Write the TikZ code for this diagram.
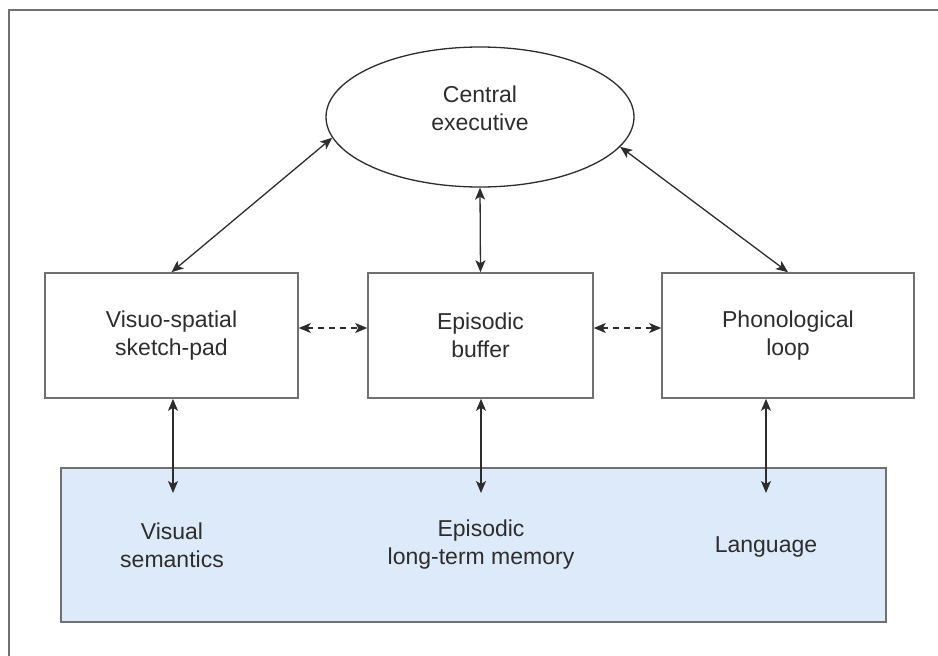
\documentclass[tikz,border=0pt]{standalone}
\usepackage{fontspec}
\setmainfont{Liberation Sans}
\usetikzlibrary{arrows.meta,shapes.geometric}
\definecolor{boxgray}{RGB}{112,112,112}
\definecolor{inkgray}{RGB}{45,45,45}
\definecolor{memblue}{RGB}{221,234,250}

\begin{document}
\begin{tikzpicture}[x=1pt,y=-1pt,
  font=\fontsize{23}{28}\selectfont,
  box/.style={draw=boxgray,line width=1.6pt,align=center,inner sep=0pt,text=inkgray},
  txt/.style={align=center,inner sep=0pt,text=inkgray},
  tip/.style={draw=inkgray,line width=1.3pt,
    {Stealth[length=12pt,width=10pt,inset=3pt]}-{Stealth[length=12pt,width=10pt,inset=3pt]}},
  dtip/.style={tip,dash pattern=on 6pt off 5pt}]

\useasboundingbox (0,0) rectangle (938,656);
\draw [boxgray,line width=2pt] (9,656) -- (9,10) -- (938,10);

\node [draw=inkgray,line width=1.3pt,ellipse,minimum width=308,minimum height=140,inner sep=0pt] (ce) at (480,117) {};
\node [txt] (cetxt) at (480,108) {Central\\executive};

\node [box,minimum width=253,minimum height=125] (vsp) at (171.5,335.5) {Visuo-spatial\\sketch-pad};
\node [box,minimum width=225,minimum height=125] (eb) at (480.5,335.5) {Episodic\\buffer};
\node [box,minimum width=252,minimum height=125] (pl) at (788,335.5) {Phonological\\loop};

\node [box,fill=memblue,minimum width=825,minimum height=154] (ltm) at (473.5,545) {};
\node [txt] (vsem) at (172,545) {Visual\\semantics};
\node [txt] (eltm) at (481,545) {Episodic\\long-term memory};
\node [txt] (lang) at (766,547) {Language};

\coordinate (vsIn) at (173,493);
\coordinate (epIn) at (481,493);
\coordinate (lgIn) at (766,493);

\draw [tip] (ce.188) -- (vsp.north);
\draw [tip] (ce.south) -- (eb.north);
\draw [tip] (ce.348) -- (pl.north);

\draw [dtip] ([yshift=7.5pt]vsp.east) -- ([yshift=7.5pt]eb.west);
\draw [dtip] ([yshift=7.5pt]eb.east) -- ([yshift=7.5pt]pl.west);

\draw [tip] (vsp.south -| vsIn) -- (vsIn);
\draw [tip] (eb.south -| epIn) -- (epIn);
\draw [tip] (pl.south -| lgIn) -- (lgIn);
\end{tikzpicture}
\end{document}
